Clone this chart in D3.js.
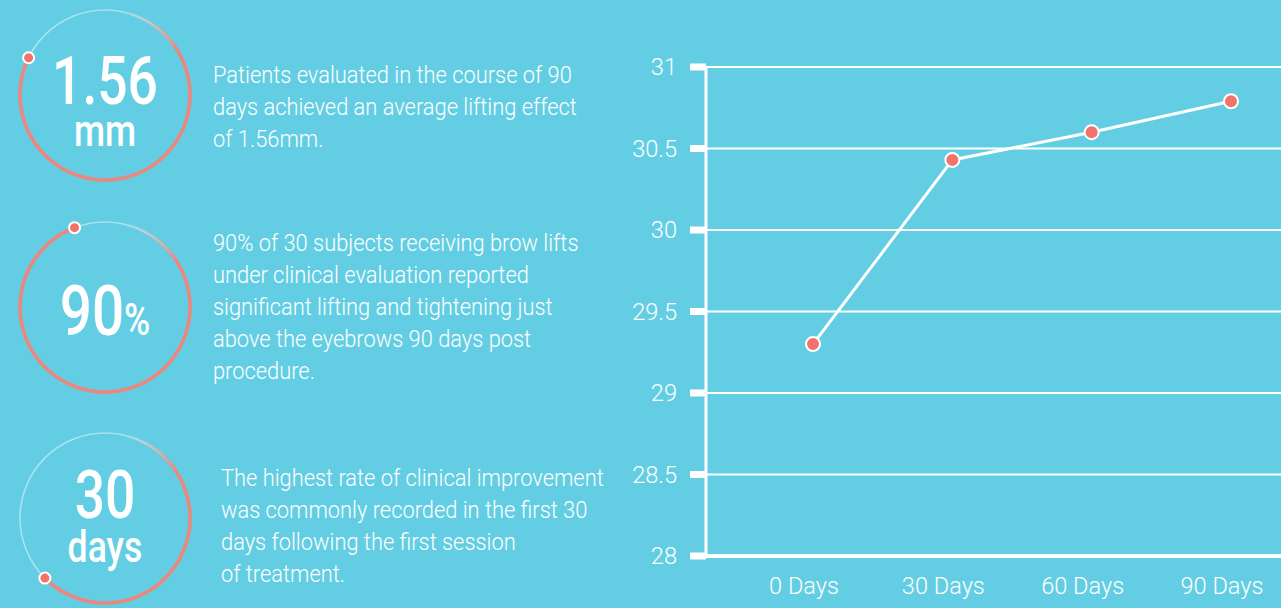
<!DOCTYPE html>
<html><head><meta charset="utf-8">
<script src="https://cdn.jsdelivr.net/npm/d3@7"></script>
<style>
html,body{margin:0;padding:0;background:#63CEE3;overflow:hidden}
text{font-family:Roboto,'DejaVu Sans',sans-serif;fill:#fff}
</style></head><body>
<svg id="c" width="1281" height="608"></svg>
<script>
// ---- data ----
const categories = ["0 Days","30 Days","60 Days","90 Days"];
const values = [29.3, 30.43, 30.6, 30.79];
const yTicks = [28, 28.5, 29, 29.5, 30, 30.5, 31];
const yTickLabels = ["28","28.5","29","29.5","30","30.5","31"];
const statMain = ["1.56","90","30"];
const statSub = ["mm","%","days"];
const statDotAngle = [296, 339, 225]; // degrees clockwise from top
const statText = [
  ["Patients evaluated in the course of 90","days achieved an average lifting effect","of 1.56mm."],
  ["90% of 30 subjects receiving brow lifts","under clinical evaluation reported","significant lifting and tightening just","above the eyebrows 90 days post","procedure."],
  ["The highest rate of clinical improvement","was commonly recorded in the first 30","days following the first session","of treatment."]
];

const svg = d3.select("#c");
const coral = "#EC877E", dotCol = "#F2736A";

// condensed look: measure a probe string and derive a horizontal squeeze
function squeeze(size, weight, probe, target){
  const t = svg.append("text").attr("font-size",size).attr("font-weight",weight).text(probe);
  const w = t.node().getComputedTextLength(); t.remove();
  return target / w;
}
const sxPara = squeeze(23, 300, statText[0][0], 359);
const sxBig = squeeze(66, 500, "1.56", 106);
const sxAxis = squeeze(24, 300, "30 Days", 83);
function txt(parent, x, y, size, weight, sx, str, anchor){
  return parent.append("text").attr("transform",`translate(${x},${y}) scale(${sx},1)`)
    .attr("font-size",size).attr("font-weight",weight).attr("text-anchor",anchor||"start").text(str);
}

// ---- stat rings ----
const ringCY = [95, 307, 518];
const textX = [213, 213, 221];
const textY0 = [83, 251, 486];
ringCY.forEach((cy,i)=>{
  const g = svg.append("g").attr("transform",`translate(105,${cy})`);
  const r = 85;
  g.append("circle").attr("r",r).attr("fill","none").attr("stroke","rgba(255,255,255,0.45)").attr("stroke-width",1.5);
  const start = 15, end = statDotAngle[i];
  const n = 80, fadeLen = 40;
  const col = d3.interpolateRgb("rgba(200,215,215,0.2)", coral);
  for(let k=0;k<n;k++){
    const a0 = start + (end-start)*k/n, a1 = start + (end-start)*(k+1)/n + 0.4;
    const t = Math.min(1,(a0-start)/fadeLen);
    g.append("path").attr("d", d3.arc()({innerRadius:r-1.8,outerRadius:r+1.8,startAngle:a0*Math.PI/180,endAngle:Math.min(a1,end)*Math.PI/180}))
      .attr("fill", col(t));
  }
  const da = end*Math.PI/180;
  g.append("circle").attr("cx",r*Math.sin(da)).attr("cy",-r*Math.cos(da)).attr("r",5.5)
    .attr("fill",dotCol).attr("stroke","#fff").attr("stroke-width",2);
  if(i===1){
    const t = g.append("text").attr("transform",`translate(0,28) scale(${sxBig},1)`).attr("text-anchor","middle").attr("font-weight",500);
    t.append("tspan").attr("font-size",70).text(statMain[i]);
    t.append("tspan").attr("font-size",44).text(statSub[i]);
  } else {
    const t = g.append("text").attr("transform",`translate(0,${i===0?9:0}) scale(${sxBig},1)`)
      .attr("text-anchor","middle").attr("font-weight",500);
    t.append("tspan").attr("x",0).attr("font-size",66).text(statMain[i]);
    t.append("tspan").attr("x",0).attr("dy",i===0?42:44).attr("font-size",44).text(statSub[i]);
  }
  statText[i].forEach((line,j)=>{
    txt(svg, textX[i], textY0[i]+j*32, 23, 300, sxPara, line);
  });
});

// ---- line chart ----
const x = d3.scalePoint().domain(categories).range([813,1231]);
const y = d3.scaleLinear().domain([28,31]).range([556,67]);

svg.append("g").selectAll("line").data(yTicks).join("line")
  .attr("x1",706).attr("x2",1281).attr("y1",d=>y(d)).attr("y2",d=>y(d))
  .attr("stroke","#fff").attr("stroke-width",d=>d===28?4:2);
svg.append("line").attr("x1",706).attr("x2",706).attr("y1",y(31)-1).attr("y2",y(28)+2)
  .attr("stroke","#fff").attr("stroke-width",3);
svg.append("g").selectAll("rect").data(yTicks).join("rect")
  .attr("x",690).attr("width",16).attr("y",d=>y(d)-3.5).attr("height",7).attr("fill","#fff");
const yl = svg.append("g");
yTicks.forEach((d,i)=>txt(yl, 677, y(d)+8, 24, 300, sxAxis, yTickLabels[i], "end"));
const xl = svg.append("g");
categories.forEach(d=>txt(xl, x(d)-9, 594, 24, 300, sxAxis, d, "middle"));

svg.append("path").datum(values)
  .attr("d", d3.line().x((d,i)=>x(categories[i])).y(d=>y(d)))
  .attr("fill","none").attr("stroke","#fff").attr("stroke-width",3);
svg.append("g").selectAll("circle").data(values).join("circle")
  .attr("cx",(d,i)=>x(categories[i])).attr("cy",d=>y(d)).attr("r",7)
  .attr("fill",dotCol).attr("stroke","#fff").attr("stroke-width",2);
</script></body></html>
